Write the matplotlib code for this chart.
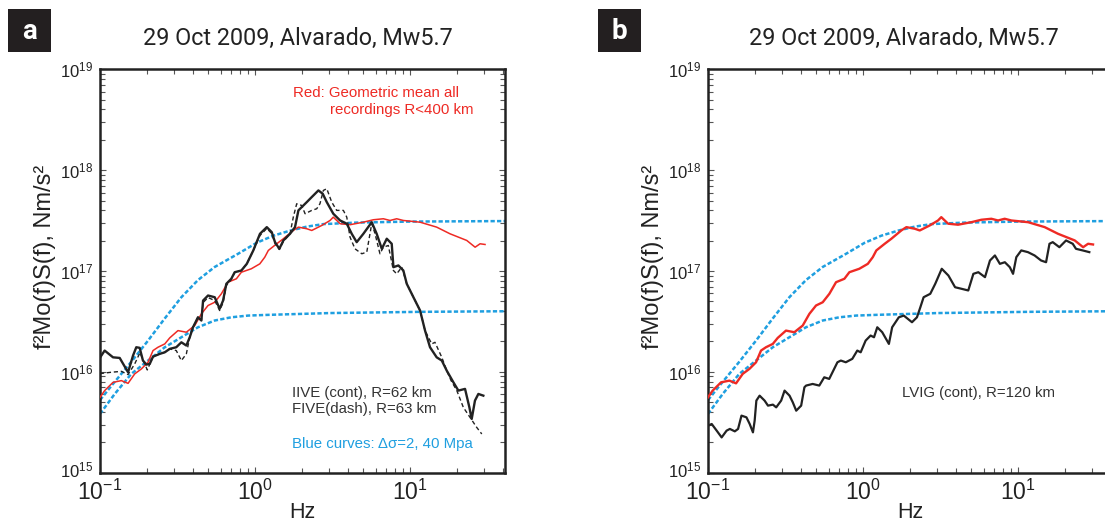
import numpy as np
import matplotlib
matplotlib.use("Agg")
import matplotlib.pyplot as plt
from matplotlib.ticker import LogLocator, NullFormatter
from matplotlib.patches import Rectangle
from matplotlib.transforms import ScaledTranslation

plt.rcParams['font.family'] = ['Liberation Sans', 'DejaVu Sans']
plt.rcParams['mathtext.fontset'] = 'custom'
plt.rcParams['mathtext.rm'] = 'Liberation Sans'
plt.rcParams['mathtext.it'] = 'Liberation Sans:italic'

TITLE = "29 Oct 2009, Alvarado, Mw5.7"
YLABEL = "f\u00b2Mo(f)S(f), Nm/s\u00b2"

# spectra as log10(frequency, Hz) / log10(amplitude, Nm/s^2)
# Brune source curves, stress drop 40 MPa (upper) and 2 MPa (lower)
blue_hi_logf = [-1.0, -0.927, -0.798, -0.690, -0.582, -0.475, -0.368, -0.260, -0.110,
                0.011, 0.118, 0.226, 0.334, 0.441, 0.656, 1.0, 1.613]
blue_hi_logm = [15.72, 15.86, 16.10, 16.31, 16.53, 16.74, 16.91, 17.04, 17.17,
                17.28, 17.35, 17.40, 17.44, 17.465, 17.48, 17.49, 17.495]
blue_lo_logf = [-1.0, -0.905, -0.798, -0.690, -0.582, -0.475, -0.368, -0.260, -0.153,
                -0.045, 0.084, 0.484, 1.065, 1.613]
blue_lo_logm = [15.583, 15.781, 15.98, 16.112, 16.244, 16.343, 16.442, 16.509, 16.541,
                16.558, 16.565, 16.583, 16.595, 16.601]

# geometric mean of all recordings R<400 km
red_logf = [-1.0, -0.970, -0.916, -0.862, -0.819, -0.776, -0.733, -0.690, -0.658, -0.626,
            -0.582, -0.550, -0.497, -0.443, -0.389, -0.346, -0.303, -0.260, -0.217, -0.174,
            -0.120, -0.088, -0.024, 0.031, 0.063, 0.086, 0.140, 0.183, 0.247, 0.280,
            0.334, 0.366, 0.431, 0.484, 0.505, 0.549, 0.613, 0.699, 0.763, 0.828,
            0.871, 0.914, 0.957, 1.065, 1.172, 1.258, 1.366, 1.420, 1.452, 1.484]
red_logm = [15.747, 15.814, 15.896, 15.913, 15.886, 15.980, 16.029, 16.095, 16.211, 16.244,
            16.277, 16.337, 16.409, 16.393, 16.459, 16.575, 16.658, 16.690, 16.774, 16.889,
            16.923, 16.988, 17.022, 17.071, 17.137, 17.204, 17.270, 17.320, 17.402, 17.435,
            17.419, 17.402, 17.452, 17.501, 17.534, 17.469, 17.459, 17.484, 17.508, 17.518,
            17.501, 17.518, 17.501, 17.484, 17.435, 17.369, 17.303, 17.236, 17.270, 17.263]

# IIVE, R=62 km (solid)
iive_logf = [-1.0, -0.970, -0.916, -0.873, -0.819, -0.787, -0.766, -0.744, -0.723, -0.701,
             -0.679, -0.658, -0.615, -0.582, -0.550, -0.508, -0.475, -0.443, -0.421, -0.400,
             -0.368, -0.346, -0.335, -0.303, -0.260, -0.228, -0.206, -0.185, -0.153, -0.131,
             -0.088, -0.053, -0.011, 0.032, 0.076, 0.108, 0.129, 0.157, 0.183, 0.226,
             0.258, 0.280, 0.301, 0.334, 0.366, 0.409, 0.437, 0.463, 0.505, 0.549,
             0.592, 0.624, 0.656, 0.699, 0.753, 0.785, 0.818, 0.850, 0.882, 0.893,
             0.925, 0.957, 0.979, 1.022, 1.065, 1.097, 1.129, 1.172, 1.205, 1.237,
             1.280, 1.312, 1.355, 1.383, 1.398, 1.419, 1.441, 1.473]
iive_logm = [16.141, 16.211, 16.144, 16.138, 15.996, 16.161, 16.244, 16.238, 16.112, 16.072,
             16.079, 16.151, 16.178, 16.194, 16.228, 16.244, 16.293, 16.261, 16.343, 16.442,
             16.541, 16.509, 16.707, 16.757, 16.740, 16.625, 16.707, 16.873, 16.923, 16.988,
             17.005, 17.071, 17.204, 17.369, 17.435, 17.385, 17.286, 17.220, 17.303, 17.369,
             17.435, 17.601, 17.633, 17.683, 17.733, 17.799, 17.766, 17.683, 17.568, 17.501,
             17.469, 17.369, 17.286, 17.369, 17.484, 17.369, 17.220, 17.320, 17.270, 17.038,
             17.055, 17.005, 16.873, 16.740, 16.608, 16.409, 16.244, 16.144, 16.112, 16.012,
             15.896, 15.814, 15.831, 15.648, 15.533, 15.715, 15.781, 15.764]

# FIVE, R=63 km (dashed)
five_logf = [-1.0, -0.927, -0.862, -0.819, -0.776, -0.742, -0.695, -0.658, -0.615, -0.582,
             -0.550, -0.508, -0.475, -0.443, -0.421, -0.400, -0.368, -0.346, -0.335, -0.303,
             -0.260, -0.228, -0.206, -0.185, -0.153, -0.131, -0.088, -0.053, -0.011, 0.032,
             0.076, 0.108, 0.129, 0.157, 0.183, 0.226, 0.247, 0.269, 0.301, 0.323,
             0.366, 0.398, 0.419, 0.441, 0.463, 0.495, 0.527, 0.570, 0.592, 0.613,
             0.645, 0.689, 0.721, 0.753, 0.774, 0.806, 0.828, 0.860, 0.893, 0.914,
             0.947, 0.979, 1.022, 1.065, 1.097, 1.140, 1.161, 1.205, 1.237, 1.265,
             1.302, 1.344, 1.387, 1.430, 1.463]
five_logm = [15.983, 15.996, 16.005, 15.973, 16.079, 16.191, 16.019, 16.151, 16.178, 16.194,
             16.228, 16.211, 16.112, 16.178, 16.343, 16.442, 16.541, 16.509, 16.687, 16.737,
             16.707, 16.608, 16.687, 16.856, 16.916, 16.985, 17.005, 17.071, 17.204, 17.352,
             17.422, 17.372, 17.273, 17.213, 17.293, 17.369, 17.534, 17.667, 17.650, 17.568,
             17.601, 17.617, 17.667, 17.799, 17.816, 17.683, 17.601, 17.601, 17.534, 17.336,
             17.220, 17.171, 17.187, 17.469, 17.372, 17.171, 17.236, 17.253, 17.005, 16.972,
             17.038, 16.873, 16.740, 16.608, 16.409, 16.277, 16.293, 16.144, 16.012, 15.913,
             15.814, 15.648, 15.549, 15.450, 15.384]

# LVIG, R=120 km (solid)
lvig_logf = [-1.0, -0.976, -0.944, -0.912, -0.880, -0.859, -0.827, -0.806, -0.784, -0.752,
             -0.731, -0.710, -0.699, -0.688, -0.667, -0.635, -0.613, -0.581, -0.560, -0.528,
             -0.506, -0.474, -0.453, -0.431, -0.399, -0.378, -0.367, -0.325, -0.282, -0.250,
             -0.218, -0.165, -0.143, -0.111, -0.069, -0.037, -0.015, 0.017, 0.049, 0.071,
             0.092, 0.124, 0.167, 0.188, 0.231, 0.263, 0.316, 0.348, 0.370, 0.391,
             0.434, 0.466, 0.508, 0.551, 0.594, 0.637, 0.679, 0.712, 0.744, 0.787,
             0.819, 0.851, 0.883, 0.915, 0.947, 0.968, 0.989, 1.021, 1.064, 1.107,
             1.149, 1.181, 1.203, 1.224, 1.267, 1.310, 1.353, 1.374, 1.417, 1.460]
lvig_logm = [15.466, 15.483, 15.417, 15.350, 15.417, 15.434, 15.410, 15.434, 15.566, 15.549,
             15.483, 15.400, 15.516, 15.715, 15.764, 15.715, 15.665, 15.675, 15.648, 15.715,
             15.814, 15.764, 15.698, 15.615, 15.665, 15.847, 15.864, 15.880, 15.864, 15.946,
             15.930, 16.095, 16.112, 16.095, 16.129, 16.211, 16.194, 16.310, 16.360, 16.343,
             16.442, 16.393, 16.277, 16.442, 16.541, 16.558, 16.492, 16.541, 16.641, 16.740,
             16.774, 16.873, 17.022, 16.955, 16.839, 16.823, 16.807, 16.972, 16.988, 16.939,
             17.104, 17.154, 17.071, 17.087, 17.038, 16.972, 17.137, 17.204, 17.187, 17.154,
             17.104, 17.087, 17.270, 17.286, 17.236, 17.303, 17.270, 17.220, 17.204, 17.187]

BLUE = '#1f9fe0'
RED = '#ee2a24'
DARK = '#222222'


def pw(lf, lm):
    return 10 ** np.array(lf), 10 ** np.array(lm)


def style_axes(ax):
    ax.set_xscale('log')
    ax.set_yscale('log')
    ax.set_xlim(0.1, 41)
    ax.set_ylim(1e15, 1e19)
    ax.xaxis.set_major_locator(LogLocator(base=10, numticks=10))
    ax.xaxis.set_minor_locator(LogLocator(base=10, subs=np.arange(2, 10), numticks=20))
    ax.yaxis.set_major_locator(LogLocator(base=10, numticks=10))
    ax.yaxis.set_minor_locator(LogLocator(base=10, subs=np.arange(2, 10), numticks=20))
    ax.xaxis.set_minor_formatter(NullFormatter())
    ax.yaxis.set_minor_formatter(NullFormatter())
    for s in ax.spines.values():
        s.set_linewidth(1.8)
        s.set_color('#222222')
    ax.tick_params(which='both', direction='in', top=True, right=True,
                   color='#555555', width=0.8)
    ax.tick_params(which='major', length=4.5)
    ax.tick_params(which='minor', length=3.5)
    ax.tick_params(axis='x', labelsize=16.5, pad=5, labelcolor='#222222')
    ax.tick_params(axis='y', labelsize=12, pad=5, labelcolor='#222222')
    ax.set_xlabel('Hz', fontsize=15.5, color='#222222', labelpad=-2)


def lift_bottom_label(ax):
    # keep 10^15 clear of the 10^-1 label below it
    locs = ax.yaxis.get_majorticklocs()
    for t, v in zip(ax.yaxis.get_major_ticks(len(locs)), locs):
        if np.isclose(v, 1e15):
            t.label1.set_transform(t.label1.get_transform()
                                   + ScaledTranslation(0, 3 / 72, fig.dpi_scale_trans))


def draw_blue(ax):
    ax.plot(*pw(blue_hi_logf, blue_hi_logm), color=BLUE, lw=1.8,
            linestyle=(0, (1.7, 0.9)), zorder=2)
    ax.plot(*pw(blue_lo_logf, blue_lo_logm), color=BLUE, lw=1.8,
            linestyle=(0, (1.7, 0.9)), zorder=2)


fig = plt.figure(figsize=(11.05, 5.22), dpi=100)
ax_a = fig.add_axes([100 / 1105, 49.3 / 522, 405 / 1105, 403.4 / 522])
ax_b = fig.add_axes([708 / 1105, 49.3 / 522, 405 / 1105, 403.4 / 522])

# panel a
style_axes(ax_a)
draw_blue(ax_a)
ax_a.plot(*pw(red_logf, red_logm), color=RED, lw=1.1, zorder=3)
ax_a.plot(*pw(five_logf, five_logm), color=DARK, lw=1.0, linestyle=(0, (3, 2)), zorder=4)
ax_a.plot(*pw(iive_logf, iive_logm), color=DARK, lw=1.7, zorder=5)
ax_a.text(0.477, 0.941, "Red: Geometric mean all", transform=ax_a.transAxes,
          color=RED, fontsize=10.8, va='center')
ax_a.text(0.568, 0.899, "recordings R<400 km", transform=ax_a.transAxes,
          color=RED, fontsize=10.8, va='center')
ax_a.text(0.474, 0.198, "IIVE (cont), R=62 km", transform=ax_a.transAxes,
          color='#333333', fontsize=10.8, va='center')
ax_a.text(0.474, 0.158, "FIVE(dash), R=63 km", transform=ax_a.transAxes,
          color='#333333', fontsize=10.8, va='center')
ax_a.text(0.474, 0.071, "Blue curves: \u0394\u03c3=2, 40 Mpa", transform=ax_a.transAxes,
          color=BLUE, fontsize=10.8, va='center')

# panel b
style_axes(ax_b)
draw_blue(ax_b)
ax_b.plot(*pw(red_logf, red_logm), color=RED, lw=1.7, zorder=3)
ax_b.plot(*pw(lvig_logf, lvig_logm), color=DARK, lw=1.6, zorder=5)
ax_b.text(0.479, 0.198, "LVIG (cont), R=120 km", transform=ax_b.transAxes,
          color='#333333', fontsize=10.8, va='center')

lift_bottom_label(ax_a)
lift_bottom_label(ax_b)

# titles, y labels and panel letters
for x0, xc, xl, letter in [(8, 298, 45, 'a'), (598, 904, 653, 'b')]:
    fig.text(xc / 1105, 1 - 38 / 522, TITLE, ha='center', va='center',
             fontsize=16.8, color='#222222', family='Roboto')
    fig.text(xl / 1105, 1 - 257 / 522, YLABEL, ha='center', va='center', rotation=90,
             fontsize=17, color='#222222')
    fig.patches.append(Rectangle((x0 / 1105, 1 - 52 / 522), 43 / 1105, 43 / 522,
                                 transform=fig.transFigure, facecolor='#231f20',
                                 edgecolor='none'))
    fig.text((x0 + 21.5) / 1105, 1 - 31 / 522, letter, ha='center', va='center',
             fontsize=20, fontweight='bold', color='white', family='Roboto')

fig.savefig('out.png', dpi=100)
